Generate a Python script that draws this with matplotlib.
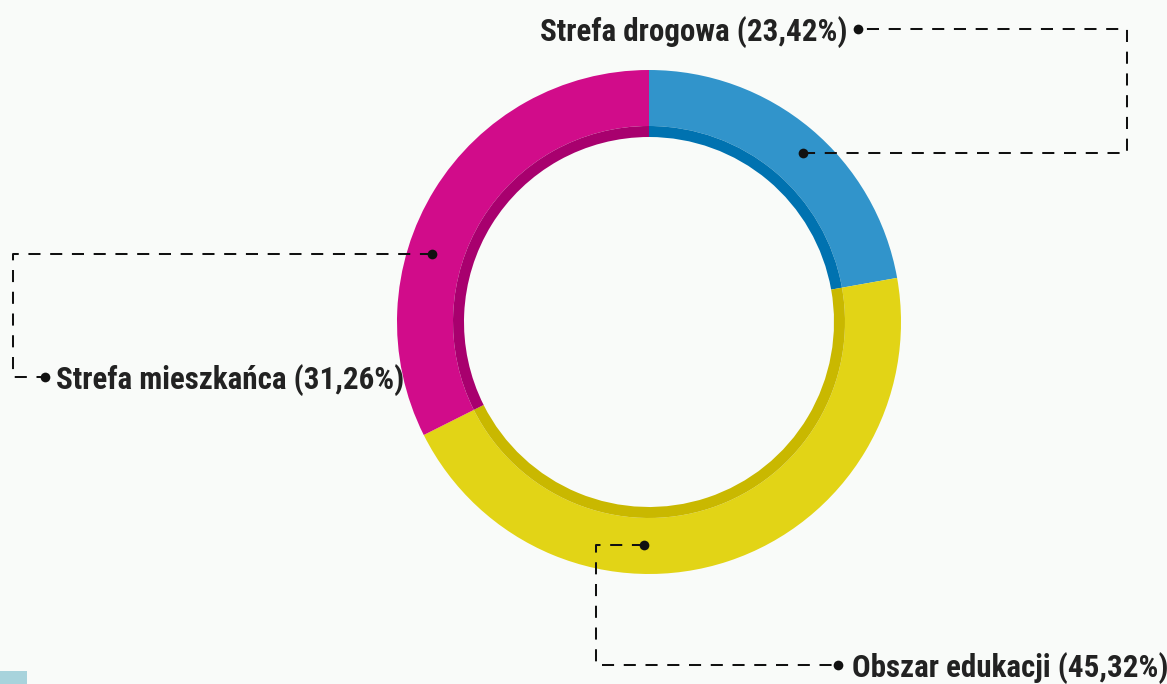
import matplotlib
matplotlib.use("Agg")
import matplotlib.pyplot as plt

# ---- data ----
categories = ["Strefa drogowa", "Obszar edukacji", "Strefa mieszkańca"]
label_values = ["23,42%", "45,32%", "31,26%"]
# shares as drawn in the picture (arc sizes, percent)
values = [22.2, 45.4, 32.4]
colors = ["#3194cb", "#e2d416", "#d10c8a"]
dark_colors = ["#0072b0", "#c9b800", "#a8006e"]

# ---- layout ----
W, H = 1167, 684
BG = "#f9fbf9"
cx, cy = 649, H - 322
R_out, R_mid, R_in = 252, 196, 185

fig = plt.figure(figsize=(W / 100, H / 100), dpi=100, facecolor=BG)
ax = fig.add_axes([0, 0, 1, 1])
ax.set_facecolor(BG)

ax.pie(values, radius=R_out, center=(cx, cy), startangle=90, counterclock=False,
       colors=colors, wedgeprops=dict(width=R_out - R_mid, linewidth=0))
ax.pie(values, radius=R_mid, center=(cx, cy), startangle=90, counterclock=False,
       colors=dark_colors, wedgeprops=dict(width=R_mid - R_in, linewidth=0))

ax.set_xlim(0, W)
ax.set_ylim(0, H)
ax.set_aspect("equal")
ax.axis("off")

font = ["Roboto Condensed", "DejaVu Sans"]
dash = dict(color="#111111", lw=1.45, linestyle=(0, (6, 4.8)))

def connector(pts, txt, tx, ty, ha):
    xs = [p[0] for p in pts]
    ys = [H - p[1] for p in pts]
    ax.plot(xs, ys, **dash, solid_capstyle="butt", dash_capstyle="butt")
    ax.plot([xs[0], xs[-1]], [ys[0], ys[-1]], "o", color="#111111", ms=7, mew=0)
    ax.text(tx, H - ty, txt, ha=ha, va="center_baseline", fontsize=22.3,
            fontweight="bold", family=font, color="#222222")

labels = [f"{c} ({v})" for c, v in zip(categories, label_values)]
# Strefa drogowa
connector([(803, 153), (1127, 153), (1127, 29), (858, 29)], labels[0], 848, 29, "right")
# Obszar edukacji
connector([(644, 545), (596, 545), (596, 665), (838, 665)], labels[1], 852, 665, "left")
# Strefa mieszkańca
connector([(432, 254), (13, 254), (13, 377), (45, 377)], labels[2], 56, 377, "left")

# small corner block
ax.add_patch(plt.Rectangle((0, 0), 27, 13, color="#a8d3dc", lw=0))

fig.savefig("out.png", dpi=100, facecolor=BG)
